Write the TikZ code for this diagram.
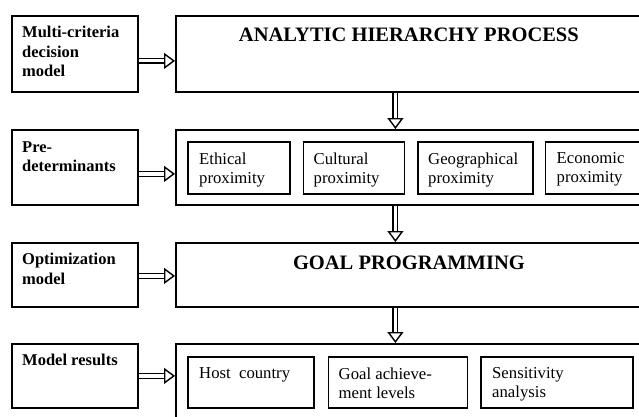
\documentclass[tikz,border=0pt]{standalone}
\usepackage{fontspec}
\setmainfont{Liberation Serif}
\usetikzlibrary{positioning,arrows.meta}
\tikzset{
  stagebox/.style={draw, line width=1.8pt, anchor=north west, inner sep=0pt},
  itembox/.style={draw, line width=1.5pt, anchor=north west, inner sep=0pt},
  tagtext/.style={anchor=north west, inner sep=0pt, align=left, font=\fontsize{16.5}{19.5}\selectfont\bfseries},
  itemtext/.style={anchor=north west, inner sep=0pt, align=left, font=\fontsize{16.7}{19}\selectfont},
  titletext/.style={anchor=base, inner sep=0pt, font=\fontsize{20.5}{24}\selectfont\bfseries},
  fat/.style={double, double distance=3.2pt, line width=1.4pt, -{Triangle[open, length=11pt, width=16pt]}},
}
\begin{document}
\begin{tikzpicture}[x=1pt, y=-1pt]
\useasboundingbox (0,0) rectangle (639,417);
\clip (0,0) rectangle (639,417);
% left column
\node[stagebox, minimum width=126pt, minimum height=76pt] (mcdm) at (11,15) {};
\node[tagtext, below right=11pt and 11pt of mcdm.north west] (mcdmtxt) {Multi-criteria\\decision\\model};
\node[stagebox, minimum width=126pt, minimum height=75pt] (pred) at (11,129) {};
\node[tagtext, below right=12pt and 11pt of pred.north west] (predtxt) {Pre-\\determinants};
\node[stagebox, minimum width=126pt, minimum height=64pt] (optm) at (11,242) {};
\node[tagtext, below right=11pt and 11pt of optm.north west] (optmtxt) {Optimization\\model};
\node[stagebox, minimum width=126pt, minimum height=64pt] (res) at (11,343) {};
\node[tagtext, below right=11pt and 11pt of res.north west] (restxt) {Model results};
% right column
\node[stagebox, minimum width=466pt, minimum height=76pt] (ahp) at (175,15) {};
\node[titletext] (ahptxt) at ([yshift=-27pt]ahp.north) {ANALYTIC HIERARCHY PROCESS};
\node[stagebox, minimum width=466pt, minimum height=75pt] (prox) at (175,129) {};
\node[stagebox, minimum width=466pt, minimum height=64pt] (gp) at (175,242) {};
\node[titletext] (gptxt) at ([yshift=-27pt]gp.north) {GOAL PROGRAMMING};
\node[stagebox, minimum width=466pt, minimum height=90pt] (out) at (175,343) {};
% proximity boxes
\node[itembox, minimum width=102pt, minimum height=52pt] (eth) at (187,141) {};
\node[itembox, minimum width=101pt, minimum height=52pt, right=12pt of eth.north east, anchor=north west] (cul) {};
\node[itembox, minimum width=115pt, minimum height=52pt, right=12pt of cul.north east, anchor=north west] (geo) {};
\node[itembox, minimum width=110pt, minimum height=52pt, right=11pt of geo.north east, anchor=north west] (eco) {};
\node[itemtext, below right=11.5pt and 12pt of eth.north west] {Ethical\\proximity};
\node[itemtext, below right=11.5pt and 11pt of cul.north west] {Cultural\\proximity};
\node[itemtext, below right=11.5pt and 11pt of geo.north west] {Geographical\\proximity};
\node[itemtext, below right=11.5pt and 12pt of eco.north west] {Economic\\proximity};
% result boxes
\node[itembox, minimum width=126pt, minimum height=51pt] (host) at (187,356) {};
\node[itembox, minimum width=139pt, minimum height=51pt, right=13pt of host.north east, anchor=north west] (goal) {};
\node[itembox, minimum width=152pt, minimum height=51pt, right=12pt of goal.north east, anchor=north west] (sens) {};
\node[itemtext, below right=11.5pt and 12pt of host.north west] {Host\ \ country};
\node[itemtext, below right=11.5pt and 11pt of goal.north west] {Goal achieve-\\ment levels};
\node[itemtext, below right=11.5pt and 12pt of sens.north west] {Sensitivity\\analysis};
% arrows
\draw[fat] ([yshift=-7pt]mcdm.east) -- ([yshift=-7pt]mcdm.east -| ahp.west);
\draw[fat] ([yshift=-6.5pt]pred.east) -- ([yshift=-6.5pt]pred.east -| prox.west);
\draw[fat] ([yshift=-1pt]optm.east) -- ([yshift=-1pt]optm.east -| gp.west);
\draw[fat] (res.east) -- (res.east -| out.west);
\draw[fat] ([xshift=-13.5pt]ahp.south) -- ([xshift=-13.5pt]ahp.south |- prox.north);
\draw[fat] ([xshift=-13.5pt]prox.south) -- ([xshift=-13.5pt]prox.south |- gp.north);
\draw[fat] ([xshift=-13.5pt]gp.south) -- ([xshift=-13.5pt]gp.south |- out.north);
\end{tikzpicture}
\end{document}
